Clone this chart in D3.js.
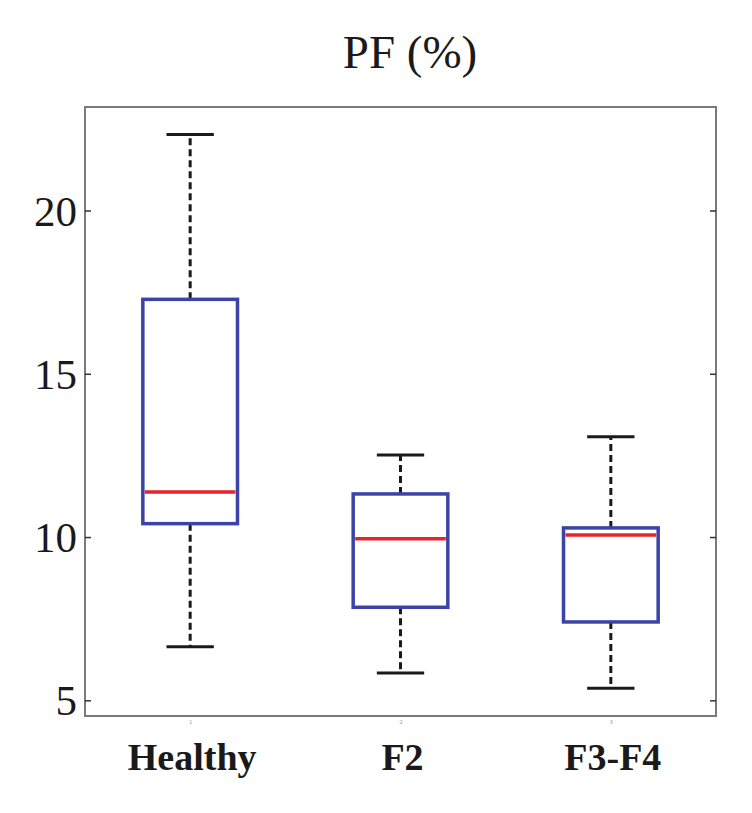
<!DOCTYPE html>
<html>
<head>
<meta charset="utf-8">
<script src="https://cdn.jsdelivr.net/npm/d3@7"></script>
<style>
  html, body { margin: 0; padding: 0; background: #fff; }
  svg { display: block; }
</style>
</head>
<body>
<svg id="chart" width="752" height="813"></svg>
<script>
// ---- data ----
const categories = ["Healthy", "F2", "F3-F4"];
const tickIds = ["1", "2", "3"];
const whiskerLow  = [6.64, 5.84, 5.37];
const q1          = [10.41, 7.85, 7.40];
const median      = [11.38, 9.95, 10.06];
const q3          = [17.28, 11.32, 10.28];
const whiskerHigh = [22.33, 12.51, 13.07];
const yTicks = [5, 10, 15, 20];
const title = "PF (%)";

// ---- layout ----
const svg = d3.select("#chart");
const L = 85, R = 716, T = 107, B = 716;

const x = d3.scaleLinear().domain([0.5, 3.5]).range([L, R]);
const y = d3.scaleLinear().domain([4.52, 23.17]).range([B, T]);

const boxW = x(1.45) - x(1);   // box width 0.45 units
const capW = x(1.225) - x(1);  // cap width

const data = categories.map((c, i) => ({
  c, pos: i + 1, lo: whiskerLow[i], q1: q1[i], med: median[i], q3: q3[i], hi: whiskerHigh[i]
}));

const axisColor = "#7a7a7a";

// frame
svg.append("rect")
  .attr("x", L).attr("y", T).attr("width", R - L).attr("height", B - T)
  .attr("fill", "none").attr("stroke", axisColor).attr("stroke-width", 2);

// y ticks left (inward) and labels
const yAxisL = d3.axisLeft(y).tickValues(yTicks).tickSize(-6).tickPadding(8).tickFormat(d3.format("d"));
const gL = svg.append("g").attr("transform", `translate(${L},0)`).call(yAxisL);
gL.select(".domain").remove();
gL.selectAll(".tick line").attr("stroke", "#333").attr("stroke-width", 1.5);
gL.selectAll(".tick text")
  .attr("font-family", "'Liberation Serif', 'Times New Roman', serif")
  .attr("font-size", 43).attr("fill", "#1a1a1a").attr("dy", "0.34em");

// y ticks right (inward)
const yAxisR = d3.axisRight(y).tickValues(yTicks).tickSize(-6).tickFormat("");
const gR = svg.append("g").attr("transform", `translate(${R},0)`).call(yAxisR);
gR.select(".domain").remove();
gR.selectAll(".tick line").attr("stroke", "#333").attr("stroke-width", 1.5);

// tiny x tick labels
const xAxis = d3.axisBottom(x).tickValues([1, 2, 3]).tickSize(0).tickPadding(4)
  .tickFormat((d, i) => tickIds[i]);
const gX = svg.append("g").attr("transform", `translate(0,${B})`).call(xAxis);
gX.select(".domain").remove();
gX.selectAll(".tick text").attr("font-size", 6).attr("fill", "#888")
  .attr("font-family", "'Liberation Serif', serif");

// category labels
svg.append("g").selectAll("text").data(data).join("text")
  .attr("x", d => x(d.pos) + 2)
  .attr("y", 770)
  .attr("text-anchor", "middle")
  .attr("font-family", "'Liberation Serif', 'Times New Roman', serif")
  .attr("font-weight", "bold")
  .attr("font-size", 38)
  .attr("fill", "#1a1a1a")
  .text(d => d.c);

// title
svg.append("text")
  .attr("x", 410).attr("y", 68)
  .attr("text-anchor", "middle")
  .attr("font-family", "'Liberation Serif', 'Times New Roman', serif")
  .attr("font-size", 47)
  .attr("fill", "#1a1a1a")
  .text(title);

// boxes
const g = svg.append("g");
const boxes = g.selectAll("g.box").data(data).join("g").attr("class", "box");

// whiskers (dashed)
boxes.append("line")
  .attr("x1", d => x(d.pos)).attr("x2", d => x(d.pos))
  .attr("y1", d => y(d.q3)).attr("y2", d => y(d.hi))
  .attr("stroke", "#1a1a1a").attr("stroke-width", 3).attr("stroke-dasharray", "7,4");
boxes.append("line")
  .attr("x1", d => x(d.pos)).attr("x2", d => x(d.pos))
  .attr("y1", d => y(d.q1)).attr("y2", d => y(d.lo))
  .attr("stroke", "#1a1a1a").attr("stroke-width", 3).attr("stroke-dasharray", "7,4");

// caps
["hi", "lo"].forEach(k => {
  boxes.append("line")
    .attr("x1", d => x(d.pos) - capW / 2).attr("x2", d => x(d.pos) + capW / 2)
    .attr("y1", d => y(d[k])).attr("y2", d => y(d[k]))
    .attr("stroke", "#1a1a1a").attr("stroke-width", 3);
});

// box
boxes.append("rect")
  .attr("x", d => x(d.pos) - boxW / 2)
  .attr("y", d => y(d.q3))
  .attr("width", boxW)
  .attr("height", d => y(d.q1) - y(d.q3))
  .attr("fill", "none")
  .attr("stroke", "#3b43a8").attr("stroke-width", 3.5);

// median
boxes.append("line")
  .attr("x1", d => x(d.pos) - boxW / 2 + 2).attr("x2", d => x(d.pos) + boxW / 2 - 2)
  .attr("y1", d => y(d.med)).attr("y2", d => y(d.med))
  .attr("stroke", "#e8232a").attr("stroke-width", 3.5);
</script>
</body>
</html>
